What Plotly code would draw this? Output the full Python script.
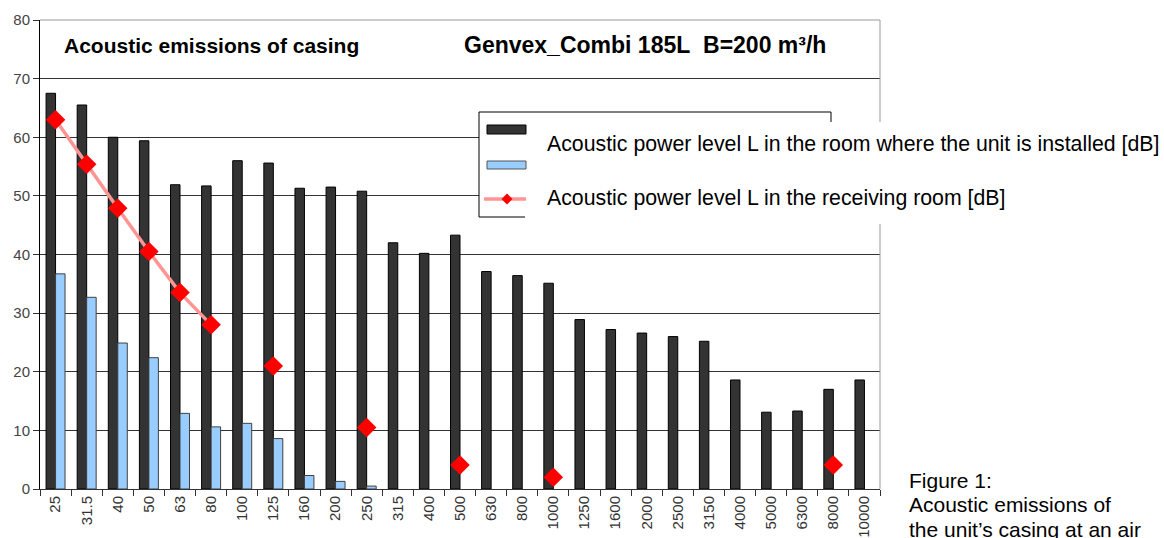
import plotly.graph_objects as go

# ---------------- data ----------------
freqs = ["25", "31.5", "40", "50", "63", "80", "100", "125", "160", "200", "250", "315",
         "400", "500", "630", "800", "1000", "1250", "1600", "2000", "2500", "3150",
         "4000", "5000", "6300", "8000", "10000"]
installed_room = [67.5, 65.5, 60.0, 59.4, 51.9, 51.7, 56.0, 55.6, 51.3, 51.5, 50.8, 42.0,
                  40.2, 43.3, 37.1, 36.4, 35.1, 28.9, 27.2, 26.6, 26.0, 25.2,
                  18.6, 13.1, 13.3, 17.0, 18.6]
blue_series = [36.7, 32.7, 24.9, 22.4, 12.9, 10.6, 11.2, 8.6, 2.3, 1.3, 0.5,
               None, None, None, None, None, None, None, None, None, None, None,
               None, None, None, None, None]
receiving_room = [63.0, 55.4, 47.9, 40.5, 33.5, 28.0, None, 21.0, None, None, 10.5, None,
                  None, 4.1, None, None, 2.0, None, None, None, None, None,
                  None, None, None, 4.1, None]
y_ticks = [0, 10, 20, 30, 40, 50, 60, 70, 80]

title_left = "Acoustic emissions of casing"
title_right = "Genvex_Combi 185L\u00a0\u00a0B=200 m³/h"
legend_text_1 = "Acoustic power level L in the room where the unit is installed [dB]"
legend_text_2 = "Acoustic power level L in the receiving room [dB]"
caption_lines = ["Figure 1:", "Acoustic emissions of", "the unit’s casing at an air"]

# ---------------- layout helpers ----------------
W, H = 1164, 538
PL, PR, PT, PB = 40, 880, 20, 489
FONT = "Liberation Sans, Arial, sans-serif"


def px(x):
    return (x - PL) / (PR - PL)


def py(y):
    return (PB - y) / (PB - PT)


fig = go.Figure()
fig.add_trace(go.Bar(x=freqs, y=installed_room, marker=dict(color="#333333", line=dict(color="#000000", width=1)),
                     showlegend=False))
fig.add_trace(go.Bar(x=freqs, y=blue_series, marker=dict(color="#99ccff", line=dict(color="#404040", width=1)),
                     showlegend=False))
fig.add_trace(go.Scatter(x=freqs, y=receiving_room, mode="lines+markers", connectgaps=False,
                         line=dict(color="#ff9494", width=3.5),
                         marker=dict(symbol="diamond", size=15, color="#ff0000"),
                         showlegend=False))

shapes = []
# white box of the left title hiding the 70 gridline
shapes.append(dict(type="rect", xref="paper", yref="y", x0=px(41), x1=px(463), y0=69.3, y1=70.7,
                   fillcolor="white", line=dict(width=0), layer="between"))
# top and right border (grey)
shapes.append(dict(type="line", xref="paper", yref="paper", x0=0, x1=1, y0=1, y1=1,
                   line=dict(color="#999999", width=1), layer="above"))
shapes.append(dict(type="line", xref="paper", yref="paper", x0=1, x1=1, y0=0, y1=1,
                   line=dict(color="#999999", width=1), layer="above"))
# legend box
shapes.append(dict(type="rect", xref="paper", yref="paper", x0=px(479), x1=px(831), y0=py(217), y1=py(112),
                   fillcolor="white", line=dict(color="#000000", width=1), layer="above"))
# white background of the legend text
shapes.append(dict(type="rect", xref="paper", yref="paper", x0=px(525), x1=px(1164), y0=py(224), y1=py(122),
                   fillcolor="white", line=dict(width=0), layer="above"))
# legend swatches
shapes.append(dict(type="rect", xref="paper", yref="paper", x0=px(487), x1=px(526), y0=py(134), y1=py(125),
                   fillcolor="#333333", line=dict(color="#000000", width=1), layer="above"))
shapes.append(dict(type="rect", xref="paper", yref="paper", x0=px(487), x1=px(526), y0=py(169), y1=py(161),
                   fillcolor="#99ccff", line=dict(color="#555555", width=1), layer="above"))
shapes.append(dict(type="line", xref="paper", yref="paper", x0=px(484), x1=px(526), y0=py(199), y1=py(199),
                   line=dict(color="#ff9494", width=3.5), layer="above"))
cx, cy, r = 507, 199, 5.5
shapes.append(dict(type="path", xref="paper", yref="paper",
                   path=f"M {px(cx - r)},{py(cy)} L {px(cx)},{py(cy - r)} L {px(cx + r)},{py(cy)} L {px(cx)},{py(cy + r)} Z",
                   fillcolor="#ff0000", line=dict(width=0), layer="above"))

annotations = []


def add_text(text, x, yc, size, bold=False):
    annotations.append(dict(text=f"<b>{text}</b>" if bold else text, x=px(x), y=py(yc),
                            xref="paper", yref="paper", xanchor="left", yanchor="middle",
                            showarrow=False, font=dict(family=FONT, size=size, color="#000000")))


add_text(title_left, 62, 46, 21, bold=True)
add_text(title_right, 462, 45, 23, bold=True)
add_text(legend_text_1, 545, 144, 21.3)
add_text(legend_text_2, 545, 198, 21.3)
for i, line in enumerate(caption_lines):
    add_text(line, 907, 480 + i * 24.5, 21)

fig.update_layout(
    width=W, height=H,
    margin=dict(l=PL, r=W - PR, t=PT, b=H - PB, pad=0, autoexpand=False),
    paper_bgcolor="white", plot_bgcolor="white",
    barmode="group", bargap=0.39, bargroupgap=0,
    font=dict(family=FONT),
    shapes=shapes, annotations=annotations,
    xaxis=dict(type="category", range=[-0.5, len(freqs) - 0.5], tickson="boundaries",
               ticks="outside", ticklen=6, tickcolor="#333333", showline=True, linecolor="#333333",
               tickangle=-90, tickfont=dict(size=15, color="#333333", family=FONT), showgrid=False,
               automargin=False),
    yaxis=dict(range=[0, 80], tickvals=y_ticks, ticks="outside", ticklen=6, tickcolor="#333333",
               showline=True, linecolor="#000000", showgrid=True, gridcolor="#333333", gridwidth=1,
               zeroline=False, tickfont=dict(size=15, color="#444444", family=FONT), automargin=False),
)

fig.write_html("out.html", config={"displayModeBar": False},
               post_script="document.body.style.margin='0';document.body.style.overflow='hidden';")
